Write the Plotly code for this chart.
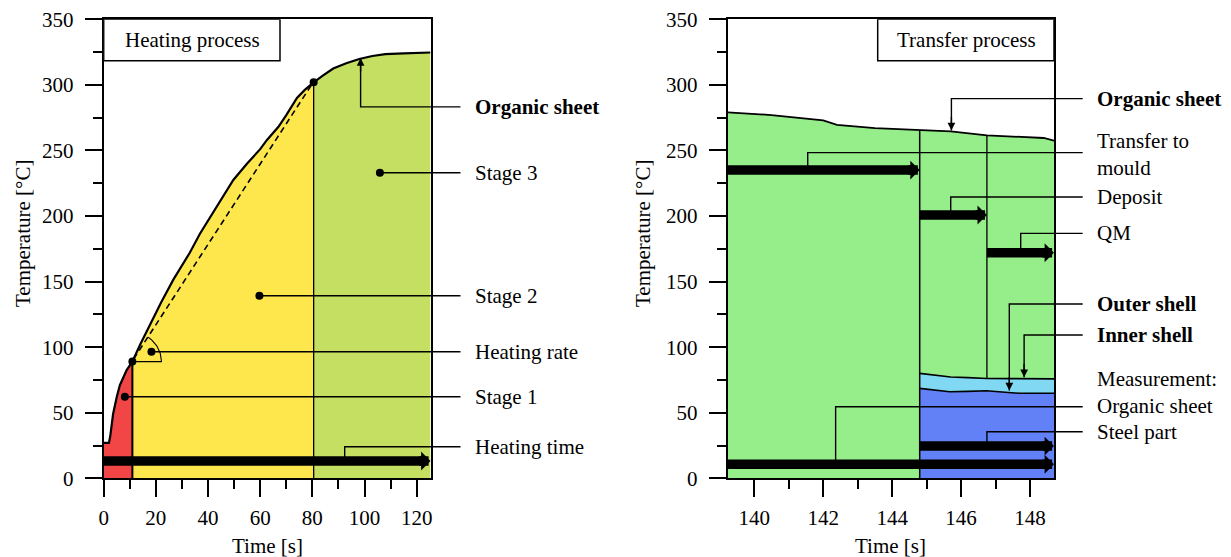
import numpy as np
import plotly.graph_objects as go

# ---------------- data ----------------
# Heating process (left): organic sheet temperature
heat_t = [0, 2, 2.5, 3.0, 3.6, 5.0, 6.2, 8.8, 11.0, 14, 18, 22, 26.7, 29.2, 33, 36.9, 43, 49.7, 55, 60,
          62.6, 67, 70, 74.1, 77, 80.5, 84, 88, 93, 98, 103, 108, 115, 120, 125.3]
heat_T = [27, 27, 32, 41, 49, 62, 71, 82.5, 89, 102, 118.5, 134, 151.5, 159.5, 172, 186.5, 206, 227.5, 240, 251,
          258, 268, 277, 290, 296, 302, 307, 312.5, 316.5, 319.7, 322, 323.5, 324, 324.2, 324.7]
stage_bounds = [0, 11.0, 80.5, 125.3]
rate_t = [11.5, 80.0]
rate_T = [91.0, 301.0]
rate_vertex = (11.0, 89.0)
curve_points_t = [11.0, 80.5]
curve_points_T = [89.0, 302.0]

# Transfer process (right)
trans_t = [139.228, 140.5, 142.0, 142.4, 143.5, 144.8, 145.7, 146.75, 148.4, 148.697]
trans_T = [279, 277, 273, 269.5, 267, 265.5, 264.5, 261.5, 259.5, 257.5]
shell_a_t = [144.8, 145.0, 145.7, 146.2, 146.75, 147.5, 148.697]
shell_a_T = [80.0, 79.5, 77.2, 76.8, 76.1, 76.0, 75.8]
shell_b_t = [144.8, 145.67, 146.2, 146.73, 147.7, 148.697]
shell_b_T = [68.6, 66.0, 66.3, 66.8, 64.8, 64.8]
phase_bounds = [139.228, 144.8, 146.75, 148.697]

# thick arrows: (x_start, x_end, y)
left_arrows = [(0, 125.3, 13.2)]
right_arrows = [(139.228, 144.8, 235.0), (144.8, 146.75, 200.8), (146.75, 148.697, 172.0),
                (144.8, 148.697, 24.6), (139.228, 148.697, 10.7)]

# labels and their anchor points
left_labels = ["<b>Organic sheet</b>", "Stage 3", "Stage 2", "Heating rate", "Stage 1", "Heating time"]
left_label_y = [283.2, 233.0, 139.2, 96.5, 62.2, 24.1]
left_anchor_x = [98.5, 105.9, 59.7, 18.3, 8.1, 92.4]
left_anchor_y = [320.5, 233.0, 139.2, 96.5, 62.2, 13.2]
left_kind = ["arrow", "dot", "dot", "dot", "dot", "elbow"]

right_labels = ["<b>Organic sheet</b>", "Transfer to<br>mould", "Deposit", "QM", "<b>Outer shell</b>",
                "<b>Inner shell</b>", "Measurement:<br>Organic sheet", "Steel part"]
right_label_y = [289.5, 246.8, 214.5, 186.8, 132.9, 108.9, 65.7, 35.5]
right_line_y = [289.5, 248.3, 214.5, 186.8, 132.9, 109.3, 54.6, 35.5]
right_anchor_x = [145.72, 141.55, 145.7, 147.73, 147.40, 147.83, 142.36, 146.75]
right_anchor_y = [265.3, 235.0, 200.8, 172.0, 67.0, 77.0, 10.7, 24.6]
right_kind = ["arrow", "elbow", "elbow", "elbow", "arrow", "arrow", "elbow", "elbow"]

x_ticks_left = [0, 20, 40, 60, 80, 100, 120]
x_ticks_right = [140, 142, 144, 146, 148]
y_ticks = [0, 50, 100, 150, 200, 250, 300, 350]

# ---------------- colours / geometry ----------------
FONT = "Liberation Serif"
C_RED, C_YEL, C_LIME = "#F24545", "#FDE74C", "#C5DF62"
C_GREEN, C_CYAN, C_BLUE = "#96EE8A", "#80D8F2", "#6281F7"

OFF = 8  # page body margin
W, H = 1231 - OFF, 557 - OFF
PL_L, PL_R = 103.7, 430.5
PR_L, PR_R = 727.7, 1054.0
P_TOP, P_BOT = 19.3, 478.3
OVL_L, OVL_R = 640.0, 1231.0


def gx(X):
    return X - OFF


def gy(Y):
    return Y - OFF


xL = [0, 125.3]
xR = [139.228, 148.697]
yR = [0, 350]
sxL = (PL_R - PL_L) / (xL[1] - xL[0])
sxR = (PR_R - PR_L) / (xR[1] - xR[0])
sy = (P_BOT - P_TOP) / (yR[1] - yR[0])
ydom = [1 - gy(P_BOT) / H, 1 - gy(P_TOP) / H]
x3range = [xL[0], xL[0] + (OVL_L - PL_L) / sxL]
x4range = [xR[0], xR[0] + (OVL_R - PR_L) / sxR]

fig = go.Figure()


def add(x, y, xa="x", ya="y", **kw):
    fig.add_trace(go.Scatter(x=x, y=y, xaxis=xa, yaxis=ya, showlegend=False, hoverinfo="skip", **kw))


def under(ts, vs, a, b):
    xs = [t for t in ts if a - 1e-9 <= t <= b + 1e-9]
    ys = [v for t, v in zip(ts, vs) if a - 1e-9 <= t <= b + 1e-9]
    return xs + [b, a, xs[0]], ys + [0, 0, ys[0]]


def interp(ts, vs, t):
    return float(np.interp(t, ts, vs))


# ---- left fills ----
for (a, b), c in zip(zip(stage_bounds[:-1], stage_bounds[1:]), [C_RED, C_YEL, C_LIME]):
    px, py = under(heat_t, heat_T, a, b)
    add(px, py, fill="toself", fillcolor=c, mode="lines", line=dict(width=0))
add([stage_bounds[1]] * 2, [0, interp(heat_t, heat_T, stage_bounds[1])], mode="lines",
    line=dict(color="black", width=2))
add([stage_bounds[2]] * 2, [0, interp(heat_t, heat_T, stage_bounds[2])], mode="lines",
    line=dict(color="black", width=1.3))
add(rate_t, rate_T, mode="lines", line=dict(color="black", width=1.6, dash="6px,4px"))
ang = np.arctan2((rate_T[1] - rate_vertex[1]) * sy, (rate_t[1] - rate_vertex[0]) * sxL)
th = np.linspace(0, ang, 30)
r = 29
add([rate_vertex[0], rate_vertex[0] + r / sxL] + list(rate_vertex[0] + r * np.cos(th) / sxL),
    [rate_vertex[1], rate_vertex[1]] + list(rate_vertex[1] + r * np.sin(th) / sy),
    mode="lines", line=dict(color="black", width=1.1))
add(heat_t, heat_T, mode="lines", line=dict(color="black", width=2.2))
add(curve_points_t, curve_points_T, mode="markers", marker=dict(color="black", size=8))

# ---- right fills ----
px, py = under(trans_t, trans_T, phase_bounds[0], phase_bounds[-1])
add(px, py, fill="toself", fillcolor=C_GREEN, mode="lines", line=dict(width=0), xa="x2", ya="y2")
px, py = under(shell_a_t, shell_a_T, phase_bounds[1], phase_bounds[-1])
add(px, py, fill="toself", fillcolor=C_CYAN, mode="lines", line=dict(width=0), xa="x2", ya="y2")
px, py = under(shell_b_t, shell_b_T, phase_bounds[1], phase_bounds[-1])
add(px, py, fill="toself", fillcolor=C_BLUE, mode="lines", line=dict(width=0), xa="x2", ya="y2")
add([phase_bounds[1]] * 2, [0, interp(trans_t, trans_T, phase_bounds[1])], mode="lines",
    line=dict(color="black", width=1.5), xa="x2", ya="y2")
add([phase_bounds[2]] * 2, [interp(shell_a_t, shell_a_T, phase_bounds[2]), interp(trans_t, trans_T, phase_bounds[2])],
    mode="lines", line=dict(color="black", width=1.3), xa="x2", ya="y2")
add(shell_a_t, shell_a_T, mode="lines", line=dict(color="black", width=1.6), xa="x2", ya="y2")
add(shell_b_t, shell_b_T, mode="lines", line=dict(color="black", width=1.6), xa="x2", ya="y2")
add(trans_t, trans_T, mode="lines", line=dict(color="black", width=1.8), xa="x2", ya="y2")

annotations = []
HEAD = dict(arrowhead=1, arrowwidth=9.5, arrowsize=0.33, arrowcolor="black")


def thick_arrows(arrows, xa, ya, sx):
    for a, b, y in arrows:
        add([a, b - 5 / sx], [y, y], mode="lines", line=dict(color="black", width=9.5), xa=xa, ya=ya)
        annotations.append(dict(x=b, y=y, ax=b - 12 / sx, ay=y, xref=xa, yref=ya, axref=xa, ayref=ya,
                                text="", showarrow=True, borderpad=0, font=dict(size=1), **HEAD))


thick_arrows(left_arrows, "x", "y", sxL)
thick_arrows(right_arrows, "x2", "y2", sxR)


def connectors(ax_list, ay_list, ly_list, kinds, x_end, xa, ya):
    dots_x, dots_y = [], []
    for axp, ayp, ly, k in zip(ax_list, ay_list, ly_list, kinds):
        if k == "dot":
            add([axp, x_end], [ly, ly], mode="lines", line=dict(color="black", width=1.4), xa=xa, ya=ya)
            dots_x.append(axp)
            dots_y.append(ayp)
        else:
            add([axp, axp, x_end], [ayp, ly, ly], mode="lines", line=dict(color="black", width=1.4), xa=xa, ya=ya)
            if k == "arrow":
                d = 14 / sy if ly > ayp else -14 / sy
                annotations.append(dict(x=axp, y=ayp, ax=axp, ay=ayp + d, xref=xa, yref=ya,
                                        axref=xa, ayref=ya, text="", showarrow=True, borderpad=0,
                                        font=dict(size=1), arrowhead=2, arrowwidth=1.4, arrowsize=1.1,
                                        arrowcolor="black"))
    if dots_x:
        add(dots_x, dots_y, mode="markers", marker=dict(color="black", size=8), xa=xa, ya=ya)


connectors(left_anchor_x, left_anchor_y, left_label_y, left_kind, xL[0] + (460.5 - PL_L) / sxL, "x3", "y")
connectors(right_anchor_x, right_anchor_y, right_line_y, right_kind, xR[0] + (1082.7 - PR_L) / sxR, "x4", "y2")

TXT = dict(family=FONT, size=21, color="black")
for t, y in zip(left_labels, left_label_y):
    annotations.append(dict(x=xL[0] + (473 - PL_L) / sxL, y=y, xref="x3", yref="y", text=t, showarrow=False,
                            xanchor="left", yanchor="middle", font=TXT))
for t, y in zip(right_labels, right_label_y):
    annotations.append(dict(x=xR[0] + (1095 - PR_L) / sxR, y=y, xref="x4", yref="y2", text=t, showarrow=False,
                            xanchor="left", yanchor="middle", align="left", font=TXT))

# title boxes
box_y0 = (P_BOT - 60.7) / sy
shapes = [
    dict(type="rect", xref="x", yref="y", x0=xL[0], x1=xL[0] + (280 - PL_L) / sxL, y0=box_y0, y1=yR[1],
         line=dict(color="black", width=1.5), fillcolor="white", layer="above"),
    dict(type="rect", xref="x2", yref="y2", x0=xR[0] + (877.7 - PR_L) / sxR, x1=xR[1], y0=box_y0, y1=yR[1],
         line=dict(color="black", width=1.5), fillcolor="white", layer="above"),
]
annotations.append(dict(x=xL[0] + (192 - PL_L) / sxL, y=(box_y0 + yR[1]) / 2, xref="x", yref="y",
                        text="Heating process", showarrow=False, xanchor="center", yanchor="middle", font=TXT))
annotations.append(dict(x=xR[0] + (966 - PR_L) / sxR, y=(box_y0 + yR[1]) / 2, xref="x2", yref="y2",
                        text="Transfer process", showarrow=False, xanchor="center", yanchor="middle", font=TXT))

# axis titles
for X in [23, 643]:
    annotations.append(dict(x=gx(X) / W, y=1 - gy(234) / H, xref="paper", yref="paper", text="Temperature [°C]",
                            textangle=-90, showarrow=False, xanchor="center", yanchor="middle", font=TXT))
for X in [(PL_L + PL_R) / 2, (PR_L + PR_R) / 2]:
    annotations.append(dict(x=gx(X) / W, y=1 - gy(545.5) / H, xref="paper", yref="paper", text="Time [s]",
                            showarrow=False, xanchor="center", yanchor="middle", font=TXT))

ax_common = dict(showline=True, linecolor="black", linewidth=2, mirror=True, ticks="outside", ticklen=17,
                 tickwidth=2, tickcolor="black", showgrid=False, zeroline=False, automargin=False,
                 ticklabeloverflow="allow", tickfont=TXT)
minor_common = dict(ticks="outside", ticklen=9, tickwidth=2, tickcolor="black", showgrid=False)

fig.update_layout(
    width=W, height=H, margin=dict(l=0, r=0, t=0, b=0, autoexpand=False), paper_bgcolor="white",
    plot_bgcolor="rgba(0,0,0,0)",
    xaxis=dict(domain=[gx(PL_L) / W, gx(PL_R) / W], range=xL, anchor="y", tickvals=x_ticks_left,
               minor=dict(dtick=10, tick0=0, **minor_common), ticklabelstandoff=2, **ax_common),
    yaxis=dict(domain=ydom, range=yR, anchor="x", tickvals=y_ticks,
               minor=dict(dtick=25, tick0=0, **minor_common), ticklabelstandoff=7, **ax_common),
    xaxis2=dict(domain=[gx(PR_L) / W, gx(PR_R) / W], range=xR, anchor="y2", tickvals=x_ticks_right,
                minor=dict(dtick=1, tick0=140, **minor_common), ticklabelstandoff=2, **ax_common),
    yaxis2=dict(domain=ydom, range=yR, anchor="x2", tickvals=y_ticks,
                minor=dict(dtick=25, tick0=0, **minor_common), ticklabelstandoff=7, **ax_common),
    xaxis3=dict(domain=[gx(PL_L) / W, gx(OVL_L) / W], range=x3range, anchor="y", visible=False, automargin=False),
    xaxis4=dict(domain=[gx(PR_L) / W, min(1.0, gx(OVL_R) / W)], range=x4range, anchor="y2", visible=False,
                automargin=False),
    shapes=shapes, annotations=annotations,
)

fig.write_html("out.html")
